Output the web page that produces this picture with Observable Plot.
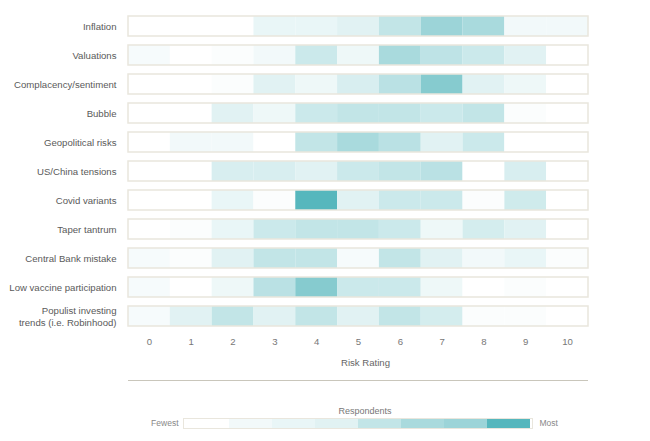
<!DOCTYPE html>
<html>
<head>
<meta charset="utf-8">
<script src="https://cdn.jsdelivr.net/npm/d3@7"></script>
<script src="https://cdn.jsdelivr.net/npm/@observablehq/plot@0.6"></script>
<style>
  html, body { margin: 0; padding: 0; background: #fff; }
  body { width: 650px; height: 441px; overflow: hidden; font-family: "Liberation Sans", Arial, sans-serif; }
  #rule { margin-left: 128px; width: 460px; height: 0; border-top: 1px solid #c9c6bb; }
  svg { display: block; }
</style>
</head>
<body>
<div id="chart"></div>
<div id="rule"></div>
<div id="legend"></div>
<script>
// ---- data ----
const risks = [
  "Inflation",
  "Valuations",
  "Complacency/sentiment",
  "Bubble",
  "Geopolitical risks",
  "US/China tensions",
  "Covid variants",
  "Taper tantrum",
  "Central Bank mistake",
  "Low vaccine participation",
  "Populist investing\ntrends (i.e. Robinhood)"
];
const ratings = [0, 1, 2, 3, 4, 5, 6, 7, 8, 9, 10];

// respondents per risk rating (0..10)
const inflation    = [0, 0, 0, 5, 5, 7, 14, 23, 20, 3, 3];
const valuations   = [2, 0, 1, 3, 12, 4, 20, 15, 12, 7, 0];
const complacency  = [0, 0, 1, 7, 4, 9, 16, 28, 7, 4, 0];
const bubble       = [0, 0, 7, 4, 12, 14, 14, 12, 14, 1, 0];
const geopolitical = [0, 3, 3, 0, 14, 20, 16, 7, 12, 0, 0];
const usChina      = [0, 0, 9, 9, 7, 12, 14, 16, 0, 9, 0];
const covid        = [0, 0, 5, 1, 39, 7, 12, 12, 1, 11, 0];
const taper        = [0, 1, 5, 12, 14, 14, 12, 4, 10, 7, 0];
const centralBank  = [2, 1, 7, 14, 14, 2, 14, 7, 3, 5, 1];
const vaccine      = [2, 0, 4, 16, 28, 12, 12, 4, 0, 1, 0];
const populist     = [2, 7, 14, 7, 14, 7, 14, 10, 1, 1, 0];

const series = [inflation, valuations, complacency, bubble, geopolitical, usChina,
                covid, taper, centralBank, vaccine, populist];

// legend swatch values (fewest -> most)
const legendLevels = [0, 3, 5, 7, 14, 20, 23, 39];

// ---- build table ----
const table = [];
risks.forEach((risk, i) => {
  ratings.forEach((r, j) => table.push({risk, rating: r, count: series[i][j]}));
});

const colorScale = {type: "linear", domain: [0, 40], range: ["#ffffff", "#52b5bb"]};
const font = "'Liberation Sans', Arial, sans-serif";
const hasAxisMarks = typeof Plot.axisY === "function";

const axisMarks = hasAxisMarks ? [
  Plot.axisY({tickSize: 0, tickPadding: 12, label: null, fill: "#5a5a5a", fontSize: 9.6, lineHeight: 1.2}),
  Plot.axisX({ticks: ratings, tickFormat: d => String(d), tickSize: 0, tickPadding: 1, label: null, fill: "#777", fontSize: 9.6})
] : [];

const chart = Plot.plot({
  width: 650,
  height: 380,
  marginLeft: 128,
  marginRight: 62,
  marginTop: 5,
  marginBottom: 43,
  style: {fontFamily: font, fontSize: "9.6px", color: "#666", background: "#fff"},
  x: hasAxisMarks ? {domain: [-0.5, 10.5], axis: null}
                  : {domain: [-0.5, 10.5], ticks: ratings, tickFormat: d => String(d), tickSize: 0, tickPadding: 1, label: null},
  y: hasAxisMarks ? {domain: risks, padding: 0.32, axis: null}
                  : {domain: risks, padding: 0.32, tickSize: 0, tickPadding: 12, label: null},
  color: colorScale,
  marks: [
    Plot.barX(table, {x1: d => d.rating - 0.5, x2: d => d.rating + 0.5, y: "risk", fill: "count"}),
    Plot.barX(risks, {x1: -0.5, x2: 10.5, y: d => d, fill: "none", stroke: "#e9e6dd", strokeWidth: 1.5}),
    ...axisMarks,
    Plot.text(["Risk Rating"], {frameAnchor: "bottom", dy: 28, dx: 7, fill: "#666", fontSize: 9.6})
  ]
});
document.getElementById("chart").appendChild(chart);

const legend = Plot.plot({
  width: 650,
  height: 60,
  marginLeft: 183,
  marginRight: 118,
  marginTop: 37,
  marginBottom: 13,
  style: {fontFamily: font, fontSize: "9px", color: "#777", background: "#fff", overflow: "visible"},
  x: {type: "band", domain: d3.range(legendLevels.length), padding: 0, axis: null},
  color: colorScale,
  marks: [
    Plot.cell(legendLevels, {x: (d, i) => i, fill: d => d}),
    Plot.frame({stroke: "#e9e6dd", strokeWidth: 1}),
    Plot.text(["Respondents"], {frameAnchor: "top", dy: -11, dx: 7, fill: "#777", fontSize: 9}),
    Plot.text(["Fewest"], {frameAnchor: "left", dx: -5, textAnchor: "end", fill: "#888", fontSize: 8.5}),
    Plot.text(["Most"], {frameAnchor: "right", dx: 7, textAnchor: "start", fill: "#888", fontSize: 8.5})
  ]
});
document.getElementById("legend").appendChild(legend);
</script>
</body>
</html>
